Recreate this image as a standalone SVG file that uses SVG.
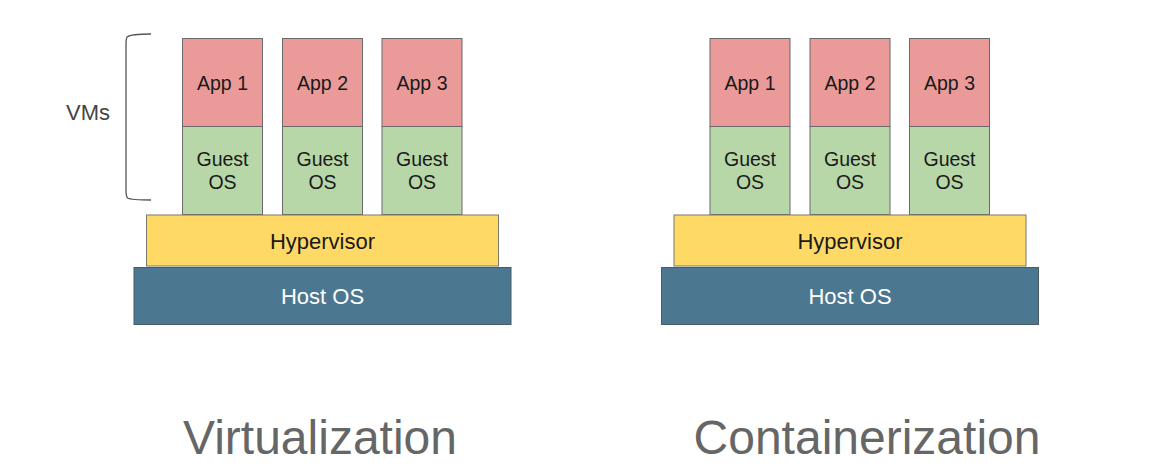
<svg xmlns="http://www.w3.org/2000/svg" width="1171" height="466" viewBox="0 0 1171 466">
<style>
text{font-family:"Liberation Sans",Arial,sans-serif;text-anchor:middle}
.app{fill:#ea9a99;stroke:#6a6a6a;stroke-width:1}
.guest{fill:#b7d7a8;stroke:#6a6a6a;stroke-width:1}
.hyp{fill:#ffd966;stroke:#7a7a6a;stroke-width:1}
.host{fill:#4b7791;stroke:#4a5a66;stroke-width:1}
.t{font-size:19.5px;fill:#1a1a1a}
.tb{font-size:22px;fill:#1a1a1a}
.tw{font-size:22px;fill:#ffffff}
.title{font-size:48px;fill:#666666}
.lbl{font-size:22px;fill:#444444}
</style>
<defs>
<g id="stack">
<g id="app1"><rect class="app" x="182.5" y="38.5" width="80" height="88"/><text class="t" x="222.5" y="90">App 1</text></g>
<g id="guest1"><rect class="guest" x="182.5" y="126.5" width="80" height="88"/><text class="t" x="222.5" y="166">Guest</text><text class="t" x="222.5" y="189">OS</text></g>
<g id="app2"><rect class="app" x="282.5" y="38.5" width="80" height="88"/><text class="t" x="322.5" y="90">App 2</text></g>
<g id="guest2"><rect class="guest" x="282.5" y="126.5" width="80" height="88"/><text class="t" x="322.5" y="166">Guest</text><text class="t" x="322.5" y="189">OS</text></g>
<g id="app3"><rect class="app" x="382" y="38.5" width="80" height="88"/><text class="t" x="422" y="90">App 3</text></g>
<g id="guest3"><rect class="guest" x="382" y="126.5" width="80" height="88"/><text class="t" x="422" y="166">Guest</text><text class="t" x="422" y="189">OS</text></g>
<g id="hypervisor"><rect class="hyp" x="146.5" y="215" width="352" height="51"/><text class="tb" x="322.5" y="248.5">Hypervisor</text></g>
<g id="hostos"><rect class="host" x="134" y="267.5" width="377" height="57"/><text class="tw" x="322.5" y="304">Host OS</text></g>
</g>
</defs>
<g id="virtualization">
<use href="#stack"/>
</g>
<g id="containerization">
<use href="#stack" transform="translate(527.5,0)"/>
</g>
<g id="connectors">
<path d="M151,34 Q131,34 127,37 Q126,39 126,44 L126,190 Q126,196 127.5,198 Q131,200 151,200" fill="none" stroke="#555555" stroke-width="1.3"/>
</g>
<g id="labels">
<text class="lbl" x="88" y="120">VMs</text>
<text class="title" x="320" y="454">Virtualization</text>
<text class="title" x="867" y="454">Containerization</text>
</g>
</svg>
